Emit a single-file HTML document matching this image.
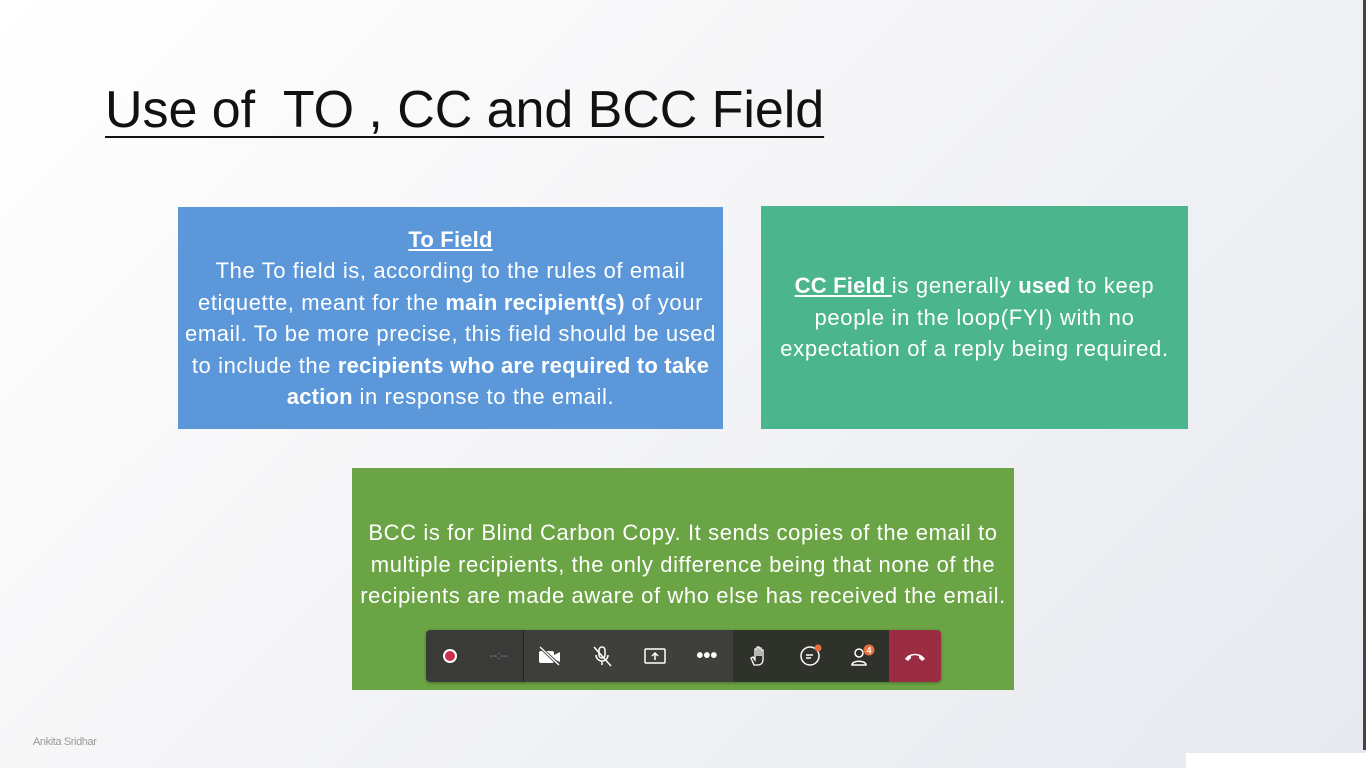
<!DOCTYPE html>
<html><head><meta charset="utf-8"><style>
*{margin:0;padding:0;box-sizing:border-box}
body{width:1366px;height:768px;overflow:hidden;position:relative;font-family:"Liberation Sans",sans-serif;background:linear-gradient(135deg,#ffffff 0%,#f6f6f8 40%,#eceef2 75%,#e6e9ef 100%)}
.title{position:absolute;left:105px;top:80px;font-size:52px;color:#111;text-decoration:underline;text-decoration-thickness:2px;text-underline-offset:9px;white-space:pre;letter-spacing:-0.05px}
.box{position:absolute;color:#fff;font-size:22px;letter-spacing:0.6px;line-height:31.5px;text-align:center;display:flex;flex-direction:column;justify-content:center;white-space:nowrap}
b{font-weight:bold;letter-spacing:0.2px}
.u{text-decoration:underline}
#blue{left:178px;top:207px;width:545px;height:222px;background:#5b97d9}
#teal{left:761px;top:206px;width:427px;height:223px;background:#4bb58e;letter-spacing:0.7px}
#green{left:352px;top:468px;width:662px;height:222px;background:#6aa444;justify-content:flex-start;padding-top:49px}
.bar{position:absolute;left:426px;top:630px;width:515px;height:52px;border-radius:4px;overflow:hidden;display:flex;box-shadow:0 1px 3px rgba(0,0,0,.3)}
.seg{height:100%;display:flex;align-items:center;justify-content:space-around}
.ic{width:30px;height:30px;display:flex;align-items:center;justify-content:center;color:#fff;font-size:18px}
.name{position:absolute;left:33px;top:736px;font-size:11px;color:#999;letter-spacing:-0.4px}
</style></head><body>
<div class="title">Use of  TO , CC and BCC Field</div>
<div class="box" id="blue">
<div><b class="u">To Field</b><br>The To field is, according to the rules of email<br>etiquette, meant for the <b>main recipient(s)</b> of your<br>email. To be more precise, this field should be used<br>to include the <b>recipients who are required to take<br>action</b> in response to the email.</div></div>
<div class="box" id="teal">
<div><b class="u">CC Field </b>is generally <b>used</b> to keep<br>people in the loop(FYI) with no<br>expectation of a reply being required.</div></div>
<div class="box" id="green">
<div>BCC is for Blind Carbon Copy. It sends copies of the email to<br>multiple recipients, the only difference being that none of the<br>recipients are made aware of who else has received the email.</div></div>
<div class="bar">
<div class="seg" style="width:98px;background:#3a3b38;border-right:1px solid #222">
<div class="ic"><span style="width:14px;height:14px;border-radius:50%;background:#c8304a;border:2px solid #fff;display:block"></span></div>
<div class="ic" style="color:#888;font-size:11px">--:--</div></div>
<div class="seg" style="width:209px;background:#3f403c">
<div class="ic"><svg width="24" height="20"><rect x="1" y="5" width="15" height="12" rx="2" fill="#fff"/><path d="M16 9l6-3v10l-6-3z" fill="#fff"/><line x1="2" y1="1" x2="21" y2="19" stroke="#3f403c" stroke-width="3"/><line x1="2" y1="1" x2="21" y2="19" stroke="#fff" stroke-width="1.3"/></svg></div>
<div class="ic"><svg width="22" height="22"><rect x="8" y="2" width="6" height="11" rx="3" fill="none" stroke="#fff" stroke-width="1.5"/><path d="M5 10a6 6 0 0 0 12 0M11 16v4" fill="none" stroke="#fff" stroke-width="1.5"/><line x1="3" y1="2" x2="20" y2="21" stroke="#fff" stroke-width="1.5"/></svg></div>
<div class="ic"><svg width="22" height="18"><rect x="1" y="2" width="20" height="14" rx="1" fill="none" stroke="#fff" stroke-width="1.5"/><path d="M11 13V6M8 9l3-3 3 3" fill="none" stroke="#fff" stroke-width="1.5"/></svg></div>
<div class="ic" style="font-size:20px;font-weight:bold">•••</div></div>
<div class="seg" style="width:156px;background:#2f312b">
<div class="ic"><svg width="20" height="22"><path d="M5 20l-3-7 2-1 2 3V4h2v7V2h2v9V3h2v8V5h2v9c0 4-2 6-5 6z" fill="none" stroke="#fff" stroke-width="1.3"/></svg></div>
<div class="ic"><svg width="24" height="24"><circle cx="11" cy="12" r="9" fill="none" stroke="#fff" stroke-width="1.5"/><path d="M7 11h7M7 14h5" stroke="#fff" stroke-width="1.5"/><circle cx="19" cy="4" r="3.5" fill="#e8703a"/></svg></div>
<div class="ic"><svg width="26" height="24"><circle cx="9" cy="9" r="4" fill="none" stroke="#fff" stroke-width="1.5"/><path d="M2 21c0-5 14-5 14 0z" fill="none" stroke="#fff" stroke-width="1.5"/><circle cx="19" cy="6" r="5.5" fill="#e8703a"/><text x="19" y="9.5" font-size="9" font-weight="bold" fill="#fff" text-anchor="middle" font-family="Liberation Sans">4</text></svg></div></div>
<div class="seg" style="width:52px;background:#9a2d42"><svg width="22" height="12"><path d="M1 9c4-7 16-7 20 0l-3 2-3-3v-2c-3-1-5-1-8 0v2l-3 3z" fill="#fff"/></svg></div>
</div>
<div class="name">Ankita Sridhar</div>
<div style="position:absolute;right:0;top:0;width:3px;height:750px;background:#444"></div>
<div style="position:absolute;left:1186px;top:753px;width:180px;height:15px;background:#fff"></div>
</body></html>
